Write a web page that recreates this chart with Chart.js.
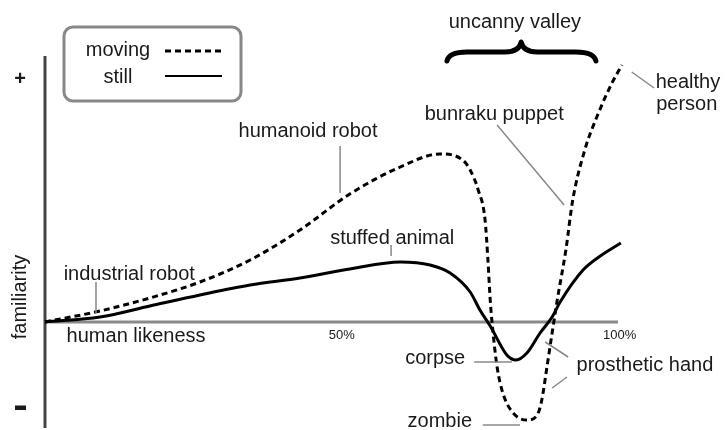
<!DOCTYPE html>
<html>
<head>
<meta charset="utf-8">
<script src="https://cdn.jsdelivr.net/npm/chart.js@4.4.0/dist/chart.umd.min.js"></script>
<style>
  body { margin: 0; background: #fff; }
  #wrap { width: 726px; height: 430px; position: relative; }
</style>
</head>
<body>
<div id="wrap"><canvas id="Grafico"></canvas></div>
<script>
// human likeness (%) and familiarity (arbitrary units, 0 = neutral)
const stillX = [0, 9.6, 18.3, 27.05, 35.8, 44.5, 53.2, 62.0, 67.2, 70.7, 74.2, 75.9, 77.7, 80.6, 82.2, 84.1, 86.4, 88.5, 89.9, 93.9, 96.9, 100.5];
const stillY = [0, 5, 16, 27, 37, 44, 53, 60, 57, 49, 30, 12, -4, -33, -38, -31, -11, 5, 20, 52, 66, 79];

const movingX = [0, 9.6, 18.3, 27.05, 35.8, 44.5, 53.2, 62.0, 68.9, 72.9, 74.2, 75.6, 76.8, 77.3, 77.7, 78.2, 78.9, 79.9, 81.7, 84.1, 85.9, 86.7, 87.6, 88.5, 89.4, 90.9, 92.1, 94.2, 96.3, 98.95, 100.7];
const movingY = [0, 11, 24, 40, 62, 92, 128, 155, 168, 162, 152, 132, 102, 62, 22, -11, -45, -71, -91, -98, -93, -78, -45, -11, 22, 72, 122, 172, 205, 239, 257];

const tickLabels = ['50%', '100%'];
const tickPos = [51.8, 100.3];

// annotations: text, x, y (data units), leader lines
const notes = [
  { text: 'humanoid robot', x: 45.9, y: 191, lines: [[51.5, 176, 51.5, 129]] },
  { text: 'stuffed animal', x: 60.6, y: 84, lines: [[60.4, 77, 60.4, 66]] },
  { text: 'industrial robot', x: 14.7, y: 48, lines: [[8.9, 40, 8.9, 9]] },
  { text: 'human likeness', x: 15.9, y: -14, lines: [] },
  { text: 'bunraku puppet', x: 78.4, y: 208, lines: [[78.9, 197, 90.6, 117]] },
  { text: 'healthy', x: 112.2, y: 240, lines: [[102.4, 250, 106.3, 234]] },
  { text: 'person', x: 112.0, y: 218, lines: [] },
  { text: 'corpse', x: 68.1, y: -36, lines: [[74.9, -40, 81.5, -40]] },
  { text: 'zombie', x: 68.9, y: -99, lines: [[76.4, -103, 82.9, -103]] },
  { text: 'prosthetic hand', x: 104.7, y: -43, lines: [[87.3, -20, 91.3, -35], [88.5, -66, 91.1, -55]] },
  { text: 'uncanny valley', x: 82.0, y: 300, lines: [] }
];

function pts(xs, ys) {
  return xs.map(function (x, i) { return { x: x, y: ys[i] }; });
}

const FONT = '"Liberation Sans", Arial, Helvetica, sans-serif';

const extras = {
  id: 'extras',
  beforeDatasetsDraw(chart) {
    const ctx = chart.ctx;
    const sx = chart.scales.x, sy = chart.scales.y;
    const area = chart.chartArea;
    const y0 = sy.getPixelForValue(0);
    ctx.save();
    // horizontal axis
    ctx.strokeStyle = '#8a8a8a';
    ctx.lineWidth = 3;
    ctx.beginPath();
    ctx.moveTo(area.left, y0);
    ctx.lineTo(sx.getPixelForValue(100), y0);
    ctx.stroke();
    // vertical axis
    ctx.strokeStyle = '#444';
    ctx.beginPath();
    ctx.moveTo(area.left, area.top);
    ctx.lineTo(area.left, area.bottom);
    ctx.stroke();
    ctx.restore();
  },
  afterDatasetsDraw(chart) {
    const ctx = chart.ctx;
    const sx = chart.scales.x, sy = chart.scales.y;
    const X = v => sx.getPixelForValue(v);
    const Y = v => sy.getPixelForValue(v);
    ctx.save();
    ctx.fillStyle = '#1a1a1a';
    ctx.textAlign = 'center';
    ctx.textBaseline = 'middle';

    // leader lines
    ctx.strokeStyle = '#888';
    ctx.lineWidth = 1.5;
    notes.forEach(function (n) {
      n.lines.forEach(function (l) {
        ctx.beginPath();
        ctx.moveTo(X(l[0]), Y(l[1]));
        ctx.lineTo(X(l[2]), Y(l[3]));
        ctx.stroke();
      });
    });

    ctx.font = '20px ' + FONT;
    notes.forEach(function (n) {
      ctx.fillText(n.text, X(n.x), Y(n.y));
    });

    // tick labels
    ctx.font = '13px ' + FONT;
    tickLabels.forEach(function (t, i) {
      ctx.fillText(t, X(tickPos[i]), Y(-13));
    });

    // axis title and signs
    ctx.font = '20px ' + FONT;
    ctx.save();
    ctx.translate(20, Y(25));
    ctx.rotate(-Math.PI / 2);
    ctx.fillText('familiarity', 0, 0);
    ctx.restore();
    ctx.font = 'bold 20px ' + FONT;
    ctx.fillText('+', 20, 79);
    ctx.fillRect(15, 405.5, 11, 4.5);

    // brace over the valley
    const bl = X(69.8), br = X(96.5), bt = X(83.1);
    const yEnd = Y(261), yBand = Y(270), yTip = Y(280);
    ctx.strokeStyle = '#000';
    ctx.lineWidth = 5;
    ctx.lineCap = 'round';
    ctx.lineJoin = 'round';
    ctx.beginPath();
    ctx.moveTo(bl + 2, yEnd);
    ctx.quadraticCurveTo(bl + 4, yBand, bl + 22, yBand);
    ctx.lineTo(bt - 16, yBand);
    ctx.quadraticCurveTo(bt - 2, yBand, bt, yTip);
    ctx.quadraticCurveTo(bt + 2, yBand, bt + 16, yBand);
    ctx.lineTo(br - 22, yBand);
    ctx.quadraticCurveTo(br - 4, yBand, br - 2, yEnd);
    ctx.stroke();

    // legend box
    const lx = 64, ly = 27, lw = 177, lh = 74;
    ctx.strokeStyle = '#888';
    ctx.lineWidth = 3;
    ctx.lineCap = 'butt';
    ctx.beginPath();
    ctx.roundRect(lx, ly, lw, lh, 9);
    ctx.stroke();
    ctx.fillStyle = '#1a1a1a';
    ctx.font = '20px ' + FONT;
    ctx.fillText('moving', 118, 50);
    ctx.fillText('still', 118, 77);
    ctx.strokeStyle = '#000';
    ctx.lineWidth = 3;
    ctx.setLineDash([6, 4]);
    ctx.beginPath();
    ctx.moveTo(165, 51);
    ctx.lineTo(225, 51);
    ctx.stroke();
    ctx.setLineDash([]);
    ctx.lineWidth = 1.8;
    ctx.beginPath();
    ctx.moveTo(165, 76);
    ctx.lineTo(222, 76);
    ctx.stroke();
    ctx.restore();
  }
};

const contexto = document.getElementById('Grafico').getContext('2d');

const data = {
  datasets: [
    {
      label: 'moving',
      data: pts(movingX, movingY),
      borderColor: '#000',
      borderWidth: 3,
      borderDash: [6, 4],
      pointRadius: 0,
      cubicInterpolationMode: 'monotone',
      clip: false
    },
    {
      label: 'still',
      data: pts(stillX, stillY),
      borderColor: '#000',
      borderWidth: 3,
      pointRadius: 0,
      cubicInterpolationMode: 'monotone',
      clip: false
    }
  ]
};

const config = {
  type: 'line',
  data,
  options: {
    responsive: true,
    maintainAspectRatio: false,
    animation: false,
    layout: { padding: { left: 45, right: 108, top: 56, bottom: 2 } },
    plugins: { legend: { display: false }, tooltip: { enabled: false } },
    scales: {
      x: { type: 'linear', min: 0, max: 100, display: false },
      y: { type: 'linear', min: -106, max: 266, display: false }
    }
  },
  plugins: [extras]
};

const Grafico = new Chart(contexto, config);
</script>
</body>
</html>
